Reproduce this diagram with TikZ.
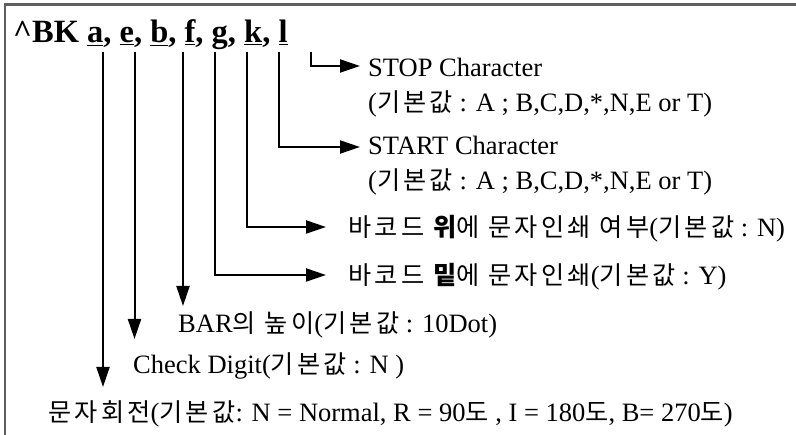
\documentclass[tikz,border=0pt]{standalone}
\usepackage{fontspec}
\setmainfont{Liberation Serif}
\newfontfamily\krfont{Noto Sans CJK KR}[Scale=0.95, LetterSpace=13]
\newcommand\kr[1]{{\krfont #1}}
\usetikzlibrary{arrows.meta}
\definecolor{framegray}{RGB}{95,95,95}

\begin{document}
\begin{tikzpicture}[x=1pt,y=-1pt,
  lbl/.style={anchor=base west, inner sep=0pt, font=\fontsize{26.5}{31}\selectfont},
  cmdtext/.style={anchor=base west, inner sep=0pt, font=\fontsize{32.5}{38}\selectfont\bfseries},
  arr/.style={line width=2pt, -{Triangle[length=20pt,width=13pt]}}]

\useasboundingbox (0,0) rectangle (796,435);
\draw[framegray, line width=2.3pt] (5,4.5) rectangle (830,470);

% command line with its parameters
\node[cmdtext] (cmd) at (13,43)
  {\textasciicircum BK \underline{a}, \underline{e}, \underline{b}, \underline{f}, g, \underline{k}, \underline{l}};

% parameter descriptions
\node[lbl] (stop)   at (368,76.5) {STOP Character};
\node[lbl] (stopd)  at (368,111.5) {(\kr{기본값} : A ; B,C,D,*,N,E or T)};
\node[lbl] (start)  at (368,155) {START Character};
\node[lbl] (startd) at (368,190) {(\kr{기본값} : A ; B,C,D,*,N,E or T)};
\node[lbl] (above)  at (348,237) {\kr{바코드 {\bfseries 위}에 문자인쇄 여부}(\kr{기본값} : N)};
\node[lbl] (below)  at (348,285) {\kr{바코드 {\bfseries 밑}에 문자인쇄}(\kr{기본값} : Y)};
\node[lbl] (bar)    at (178,333) {BAR\kr{의 높이}(\kr{기본값} : 10Dot)};
\node[lbl] (chk)    at (133,374) {Check Digit(\kr{기본값} : N )};
\node[lbl] (rot)    at (48,422)
  {\kr{문자회전}(\kr{기본값}: N = Normal, R = 90\kr{도} , I = 180\kr{도}, B= 270\kr{도})};

% leader start points under the parameters and arrow ends
\coordinate (sa) at (103,52);   \coordinate (ta) at (103,387);
\coordinate (se) at (134.5,52); \coordinate (te) at (134.5,339);
\coordinate (sb) at (183,52);   \coordinate (tb) at (183,306);
\coordinate (sf) at (215,52);   \coordinate (tf) at (326,275);
\coordinate (sg) at (247,52);   \coordinate (tg) at (326,227);
\coordinate (sk) at (279,52);   \coordinate (tk) at (360,147);
\coordinate (sl) at (311,52);   \coordinate (tl) at (360,66);

\draw[arr] (sa) -- (ta);
\draw[arr] (se) -- (te);
\draw[arr] (sb) -- (tb);
\draw[arr] (sf) |- (tf);
\draw[arr] (sg) |- (tg);
\draw[arr] (sk) |- (tk);
\draw[arr] (sl) |- (tl);
\end{tikzpicture}
\end{document}
